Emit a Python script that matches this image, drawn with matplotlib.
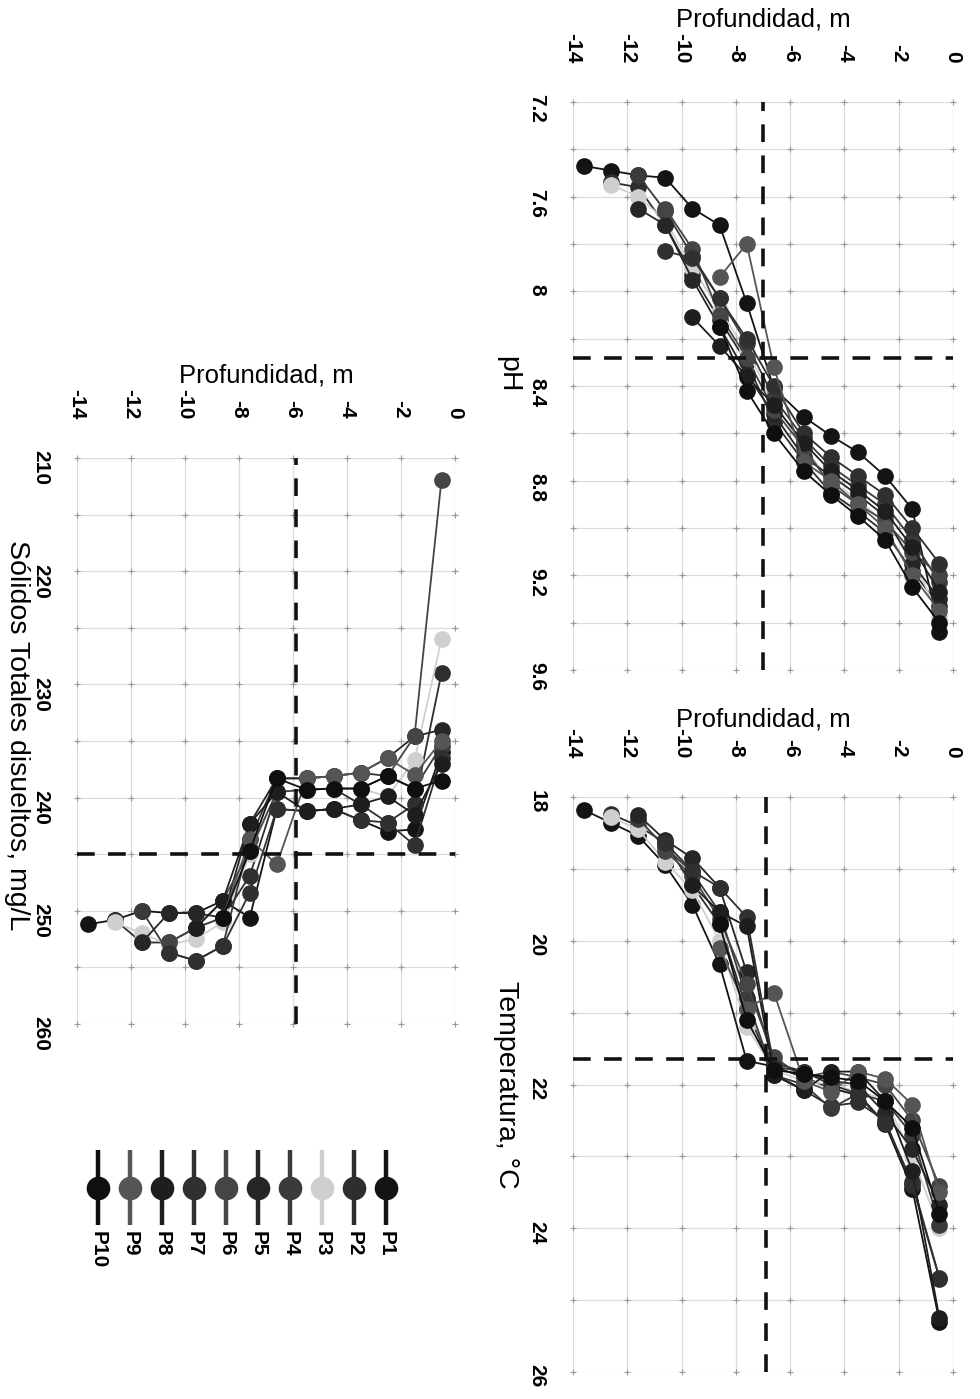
import matplotlib
matplotlib.use("Agg")
import matplotlib.pyplot as plt
import numpy as np

plt.rcParams["font.family"] = ["Liberation Sans", "DejaVu Sans"]
plt.rcParams["axes.unicode_minus"] = False

# ---------------- data ----------------
SERIES = ["P1", "P2", "P3", "P4", "P5", "P6", "P7", "P8", "P9", "P10"]
COLORS = ["#141414", "#2e2e2e", "#cfcfcf", "#3a3a3a", "#262626",
          "#454545", "#303030", "#1e1e1e", "#555555", "#0f0f0f"]

# sampling depths (m), surface first; each profile uses the first len(values) depths
DEPTHS = [-0.5, -1.5, -2.5, -3.5, -4.5, -5.5, -6.6, -7.6, -8.6, -9.6,
          -10.6, -11.6, -12.6, -13.6]

PH = {
    "P1": [9.44, 8.92, 8.78, 8.68, 8.61, 8.53, 8.41, 8.05, 7.72, 7.65, 7.52, 7.51, 7.49, 7.47],
    "P2": [9.33, 9.18, 9.02, 8.93, 8.85, 8.72, 8.55, 8.30, 8.12, 7.93, 7.72, 7.56, 7.54],
    "P3": [9.38, 9.12, 8.98, 8.88, 8.80, 8.66, 8.47, 8.25, 8.08, 7.90, 7.70, 7.60, 7.55],
    "P4": [9.23, 9.05, 8.90, 8.82, 8.74, 8.62, 8.45, 8.22, 8.03, 7.85, 7.66, 7.51],
    "P5": [9.30, 9.15, 8.95, 8.86, 8.78, 8.70, 8.52, 8.35, 8.15, 7.95, 7.72, 7.65],
    "P6": [9.20, 9.10, 8.97, 8.90, 8.82, 8.66, 8.50, 8.28, 8.10, 7.82, 7.65],
    "P7": [9.15, 9.00, 8.86, 8.78, 8.70, 8.60, 8.40, 8.20, 8.03, 7.86, 7.83],
    "P8": [9.27, 9.08, 8.93, 8.84, 8.76, 8.64, 8.48, 8.36, 8.23, 8.11],
    "P9": [9.35, 9.20, 9.00, 8.90, 8.80, 8.72, 8.32, 7.80, 7.94],
    "P10": [9.40, 9.25, 9.05, 8.95, 8.86, 8.76, 8.60, 8.42, 8.15],
}

TEMP = {
    "P1": [25.30, 23.45, 22.55, 22.15, 22.05, 21.90, 21.75, 21.67, 20.33, 19.50, 18.95, 18.54, 18.36, 18.18],
    "P2": [24.70, 23.40, 22.50, 22.25, 22.30, 22.08, 21.85, 20.95, 19.77, 19.23, 18.64, 18.40, 18.24],
    "P3": [24.00, 23.00, 22.20, 22.10, 22.00, 21.95, 21.80, 21.20, 20.00, 19.30, 18.90, 18.45, 18.28],
    "P4": [23.95, 22.70, 22.23, 22.13, 22.33, 22.00, 21.87, 20.80, 19.60, 19.05, 18.70, 18.30],
    "P5": [23.67, 22.90, 22.40, 22.00, 21.95, 21.82, 21.70, 20.44, 19.26, 18.85, 18.60, 18.25],
    "P6": [23.41, 22.50, 22.00, 21.90, 21.82, 21.90, 21.62, 20.60, 19.70, 19.10, 18.75],
    "P7": [24.69, 23.36, 22.54, 22.13, 22.00, 21.82, 21.75, 19.67, 19.26, 19.03, 18.64],
    "P8": [25.25, 23.20, 22.23, 21.82, 21.82, 22.08, 21.87, 19.80, 19.60, 19.23],
    "P9": [23.50, 22.28, 21.92, 21.82, 22.10, 21.95, 20.72, 20.95, 20.10],
    "P10": [23.80, 22.60, 22.23, 21.95, 21.90, 21.85, 21.80, 21.10, 19.77],
}

TDS = {
    "P1": [236.0, 242.8, 243.0, 242.0, 241.0, 241.2, 241.0, 250.6, 249.1, 250.2, 250.2, 250.0, 250.8, 251.2],
    "P2": [229.0, 240.6, 242.2, 240.6, 239.2, 239.3, 239.5, 246.9, 250.6, 251.5, 252.8, 252.8, 250.8],
    "P3": [226.0, 236.7, 239.9, 239.2, 239.2, 239.3, 239.5, 245.0, 251.0, 252.5, 253.0, 252.0, 251.0],
    "P4": [235.4, 239.2, 238.1, 237.8, 238.1, 238.3, 238.3, 243.7, 253.1, 254.4, 253.7, 250.0],
    "P5": [234.0, 234.6, 236.5, 237.8, 238.1, 238.3, 238.3, 242.3, 250.6, 250.2, 250.2, 252.8],
    "P6": [211.9, 234.6, 238.1, 239.2, 239.2, 239.3, 239.5, 244.7, 249.1, 251.5, 252.8],
    "P7": [236.5, 244.2, 242.2, 242.0, 241.0, 241.2, 241.0, 248.4, 253.1, 254.4, 253.7],
    "P8": [237.0, 241.5, 239.9, 240.6, 241.0, 241.2, 239.5, 242.3, 249.1, 251.5],
    "P9": [235.0, 238.0, 236.5, 237.8, 238.1, 238.3, 245.9, 243.7, 250.6],
    "P10": [238.5, 239.2, 238.1, 239.2, 239.2, 239.3, 238.3, 244.7, 250.6],
}

# reference lines: (depth, value)
PH_REF = (-7.0, 8.28)
TEMP_REF = (-6.9, 21.65)
TDS_REF = (-5.9, 245.0)

DEPTH_TICKS = [-14, -12, -10, -8, -6, -4, -2, 0]
PH_TICKS = [7.2, 7.6, 8.0, 8.4, 8.8, 9.2, 9.6]
TEMP_TICKS = [18, 20, 22, 24, 26]
TDS_TICKS = [210, 220, 230, 240, 250, 260]

# ---------------- layout ----------------
W, H = 980, 1399
fig = plt.figure(figsize=(W / 100, H / 100), dpi=100)


def box(x0, y0, x1, y1):
    return [x0 / W, 1 - y1 / H, (x1 - x0) / W, (y1 - y0) / H]


TICK_FS = 15
XLABEL_FS = 18.5
YLABEL_FS = 20.5


def fmt(v):
    return f"{v:g}"


def panel(rect, data, yticks, ygrid, ylabel, ref, xlab_y, ylab_xy, xpad, ypad):
    ax = fig.add_axes(rect)
    for s in ax.spines.values():
        s.set_visible(False)
    ax.set_xlim(-14, 0)
    ax.set_ylim(yticks[-1], yticks[0])
    ax.xaxis.set_ticks_position("top")
    ax.xaxis.set_label_position("top")
    ax.set_xticks(DEPTH_TICKS)
    ax.set_xticklabels([fmt(v) for v in DEPTH_TICKS])
    ax.set_yticks(yticks)
    ax.set_yticklabels([fmt(v) for v in yticks])
    ax.set_yticks(np.arange(yticks[0], yticks[-1] + 1e-9, ygrid), minor=True)
    ax.tick_params(axis="both", which="both", length=0)
    ax.tick_params(axis="x", labelrotation=-90, labelsize=TICK_FS, pad=xpad)
    ax.tick_params(axis="y", labelrotation=-90, labelsize=TICK_FS, pad=ypad)
    for t in ax.get_xticklabels() + ax.get_yticklabels():
        t.set_fontweight("bold")
    ax.grid(True, which="both", color="#dcdcdc", lw=0.9)
    ax.set_axisbelow(True)

    # small crosses at grid intersections
    gy = np.arange(yticks[0], yticks[-1] + 1e-9, ygrid)
    gx, gyy = np.meshgrid(DEPTH_TICKS, gy)
    ax.plot(gx.ravel(), gyy.ravel(), ls="none", marker="+", ms=5,
            mew=0.8, color="#9a9a9a", zorder=1, clip_on=False)

    ax.set_xlabel("Profundidad, m", fontsize=XLABEL_FS)
    ax.xaxis.set_label_coords(0.5, xlab_y)
    ax.xaxis.label.set_va("center")
    ax.set_ylabel(ylabel, fontsize=YLABEL_FS, rotation=-90)
    ax.yaxis.set_label_coords(*ylab_xy)
    ax.yaxis.label.set_va("center")
    ax.yaxis.label.set_ha("center")

    for name, col in zip(SERIES, COLORS):
        vals = data[name]
        ax.plot(DEPTHS[:len(vals)], vals, "-o", color=col, lw=1.3, ms=11,
                mec=col, mfc=col, zorder=3)

    dash = (0, (4.9, 3.7))
    ax.axvline(ref[0], color="#111111", lw=2.6, ls=dash, zorder=4)
    ax.axhline(ref[1], color="#111111", lw=2.6, ls=dash, zorder=4)
    return ax


ax_ph = panel(box(573, 102, 953, 670), PH, PH_TICKS, 0.2, "pH", PH_REF,
              1.145, (-0.171, 0.52), 28, 19)
ax_t = panel(box(573, 797, 953, 1372), TEMP, TEMP_TICKS, 1.0, "Temperatura, °C",
             TEMP_REF, 1.135, (-0.176, 0.5), 28, 19)
ax_s = panel(box(77, 458, 455, 1024), TDS, TDS_TICKS, 5.0,
             "Sólidos Totales disueltos, mg/L", TDS_REF, 1.145, (-0.159, 0.51), 28, 19)

# legend drawn as a vertical strip of sample markers with rotated labels
ax_leg = fig.add_axes(box(82, 1145, 402, 1280))
ax_leg.set_axis_off()
ax_leg.set_xlim(-0.5, 9.5)
ax_leg.set_ylim(0, 1)
for i, (name, col) in enumerate(zip(SERIES[::-1], COLORS[::-1])):
    ax_leg.plot([i, i], [0.41, 0.96], color=col, lw=3.2, solid_capstyle="butt")
    ax_leg.plot([i], [0.68], "o", color=col, ms=16)
    ax_leg.text(i, 0.36, name, rotation=-90, ha="center", va="top",
                fontsize=TICK_FS, fontweight="bold")

fig.savefig("out.png", dpi=100, facecolor="white")
